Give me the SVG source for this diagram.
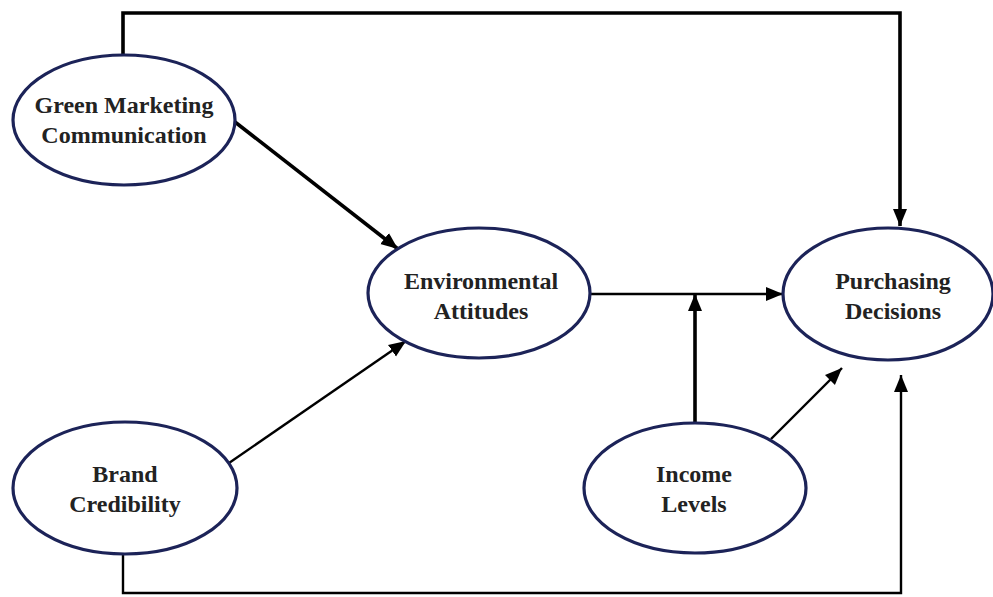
<svg xmlns="http://www.w3.org/2000/svg" width="993" height="597" viewBox="0 0 993 597">
<defs>
<style>
.node ellipse{fill:#fff;stroke:#1c2358;stroke-width:3.2}
.node text{font-family:"Liberation Serif","Times New Roman",serif;font-weight:bold;font-size:24px;fill:#222;text-anchor:middle}
.c{fill:none;stroke:#000;stroke-linejoin:miter}
.thick{stroke-width:3.6}
.thin{stroke-width:2.4}
</style>
<marker id="ah" markerUnits="userSpaceOnUse" markerWidth="18" markerHeight="16" viewBox="0 0 18 16" refX="17" refY="8" orient="auto">
<path d="M0,1 L17,8 L0,15 Z" fill="#000"/>
</marker>
</defs>
<rect width="993" height="597" fill="#fff"/>
<g id="connectors">
<path class="c thick" d="M123,55 V13 H900 V226" marker-end="url(#ah)"/>
<path class="c thick" d="M235,122 L398,249" marker-end="url(#ah)"/>
<path class="c thin" d="M229,463 L406,341" marker-end="url(#ah)"/>
<path class="c thin" d="M590,294 L783,294" marker-end="url(#ah)"/>
<path class="c thick" d="M695,422 V294" marker-end="url(#ah)"/>
<path class="c thin" d="M771,439 L842,368" marker-end="url(#ah)"/>
<path class="c thin" d="M123,555 V593 H901 V375" marker-end="url(#ah)"/>
</g>
<g id="gmc" class="node">
<ellipse cx="124" cy="120" rx="111" ry="65"/>
<text x="124" y="113" font-family="Liberation Serif, serif">Green Marketing</text>
<text x="124" y="143" font-family="Liberation Serif, serif">Communication</text>
</g>
<g id="env" class="node">
<ellipse cx="479" cy="293" rx="111" ry="65"/>
<text x="481" y="289" font-family="Liberation Serif, serif">Environmental</text>
<text x="481" y="319" font-family="Liberation Serif, serif">Attitudes</text>
</g>
<g id="pd" class="node">
<ellipse cx="888" cy="294" rx="105" ry="66"/>
<text x="893" y="289" font-family="Liberation Serif, serif">Purchasing</text>
<text x="893" y="319" font-family="Liberation Serif, serif">Decisions</text>
</g>
<g id="bc" class="node">
<ellipse cx="125" cy="488" rx="112" ry="66"/>
<text x="125" y="482" font-family="Liberation Serif, serif">Brand</text>
<text x="125" y="512" font-family="Liberation Serif, serif">Credibility</text>
</g>
<g id="il" class="node">
<ellipse cx="695" cy="488" rx="111" ry="65"/>
<text x="694" y="482" font-family="Liberation Serif, serif">Income</text>
<text x="694" y="512" font-family="Liberation Serif, serif">Levels</text>
</g>
</svg>
